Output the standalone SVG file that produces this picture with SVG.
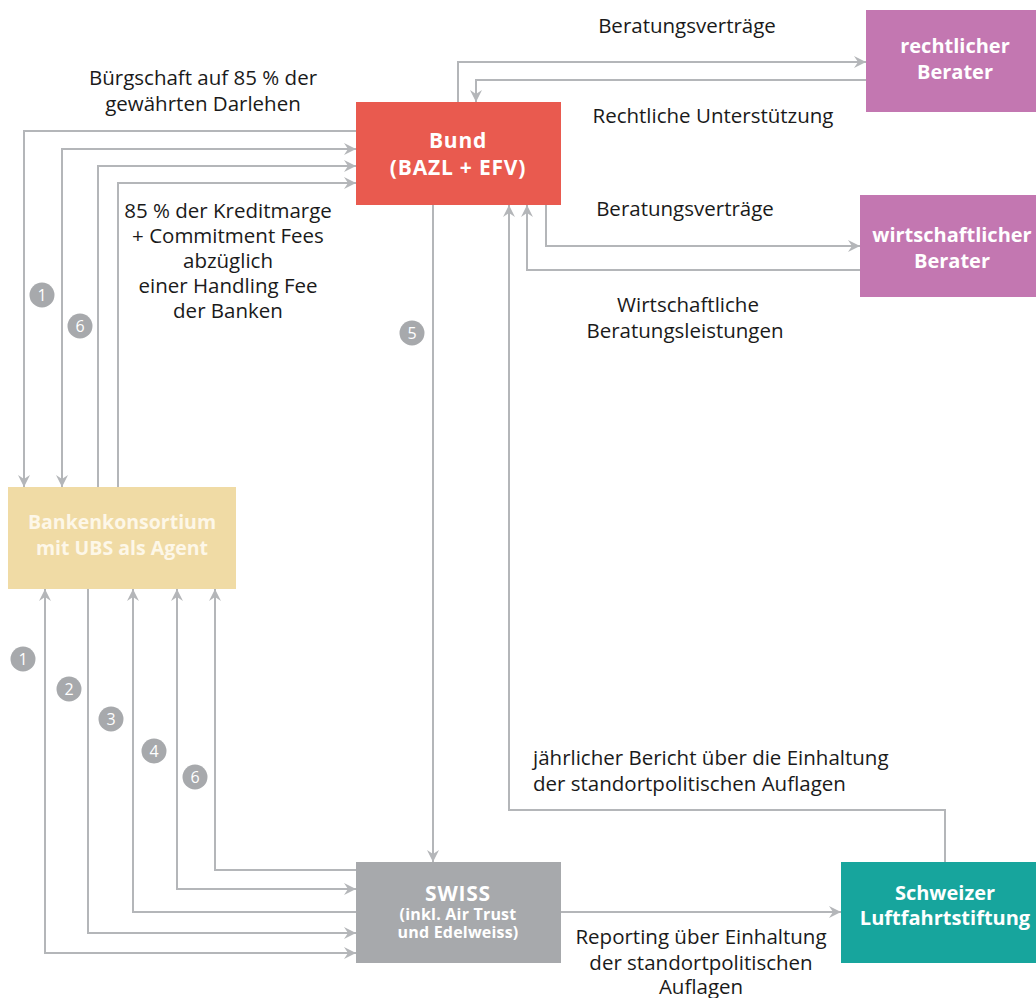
<svg xmlns="http://www.w3.org/2000/svg" width="1036" height="998" viewBox="0 0 1036 998">
<style>
.bg{fill:#ffffff}
.c{fill:none;stroke:#b4b6b9;stroke-width:2}
.lbl{font-family:"Open Sans","Liberation Sans",sans-serif;font-size:20.5px;fill:#1a1a1a}
.nt{font-family:"Open Sans","Liberation Sans",sans-serif;font-size:20px;font-weight:bold;fill:#ffffff;text-anchor:middle}
.big{font-size:21px;letter-spacing:0.8px}
.ns{font-family:"Open Sans","Liberation Sans",sans-serif;font-size:16px;font-weight:bold;fill:#ffffff;text-anchor:middle;letter-spacing:0.2px}
.cream{fill:#fdf7e8;font-size:19.5px}
.num circle{fill:#a7a9ac}
.num text{font-family:"Open Sans","Liberation Sans",sans-serif;font-size:16px;fill:#ffffff;text-anchor:middle}
</style>
<defs>
<marker id="arr" viewBox="0 0 12 12" refX="12" refY="6" markerWidth="12" markerHeight="12" markerUnits="userSpaceOnUse" orient="auto-start-reverse">
<path d="M0,0 L12,6 L0,12 L4,6 z" fill="#b4b6b9"/>
</marker>
</defs>
<rect class="bg" x="0" y="0" width="1036" height="998"/>
<g id="connectors">
<path class="c" d="M458,102 V62 H866" marker-end="url(#arr)"/>
<path class="c" d="M866,80 H476 V102" marker-end="url(#arr)"/>
<path class="c" d="M546,205 V246 H860" marker-end="url(#arr)"/>
<path class="c" d="M860,270 H527 V205" marker-end="url(#arr)"/>
<path class="c" d="M945,862 V810 H509 V205" marker-end="url(#arr)"/>
<path class="c" d="M433,205 V862" marker-end="url(#arr)"/>
<path class="c" d="M356,131 H24 V487" marker-end="url(#arr)"/>
<path class="c" d="M356,149 H62 V487" marker-start="url(#arr)" marker-end="url(#arr)"/>
<path class="c" d="M98,487 V166 H356" marker-end="url(#arr)"/>
<path class="c" d="M118,487 V183 H356" marker-end="url(#arr)"/>
<path class="c" d="M356,870 H215 V589" marker-end="url(#arr)"/>
<path class="c" d="M356,889 H177 V589" marker-start="url(#arr)" marker-end="url(#arr)"/>
<path class="c" d="M356,912 H133 V589" marker-end="url(#arr)"/>
<path class="c" d="M88,589 V933 H356" marker-end="url(#arr)"/>
<path class="c" d="M356,953 H45 V589" marker-start="url(#arr)" marker-end="url(#arr)"/>
<path class="c" d="M561,912 H841" marker-end="url(#arr)"/>
</g>
<g id="bund">
<rect x="356" y="102" width="205" height="103" fill="#e95a4f"/>
<text class="nt big" x="458" y="148">Bund</text>
<text class="nt big" x="458" y="175">(BAZL + EFV)</text>
</g>
<g id="rechtlicher-berater">
<rect x="866" y="10" width="170" height="102" fill="#c377b1"/>
<text class="nt" x="955" y="53">rechtlicher</text>
<text class="nt" x="955" y="79">Berater</text>
</g>
<g id="wirtschaftlicher-berater">
<rect x="860" y="195" width="176" height="102" fill="#c377b1"/>
<text class="nt" x="952" y="242">wirtschaftlicher</text>
<text class="nt" x="952" y="268">Berater</text>
</g>
<g id="bankenkonsortium">
<rect x="8" y="487" width="228" height="102" fill="#f0dba5"/>
<text class="nt cream" x="122" y="529">Bankenkonsortium</text>
<text class="nt cream" x="122" y="555">mit UBS als Agent</text>
</g>
<g id="swiss">
<rect x="356" y="862" width="205" height="101" fill="#a7a9ac"/>
<text class="nt big" x="458" y="901">SWISS</text>
<text class="ns" x="458" y="920">(inkl. Air Trust</text>
<text class="ns" x="458" y="938">und Edelweiss)</text>
</g>
<g id="luftfahrtstiftung">
<rect x="841" y="862" width="195" height="101" fill="#17a59d"/>
<text class="nt" x="945" y="900">Schweizer</text>
<text class="nt" x="945" y="925">Luftfahrtstiftung</text>
</g>
<g id="labels">
<text class="lbl" x="687" y="33" text-anchor="middle">Beratungsverträge</text>
<text class="lbl" x="713" y="123" text-anchor="middle">Rechtliche Unterstützung</text>
<text class="lbl" x="685" y="216" text-anchor="middle">Beratungsverträge</text>
<text class="lbl" x="688" y="312" text-anchor="middle">Wirtschaftliche</text>
<text class="lbl" x="685" y="338" text-anchor="middle">Beratungsleistungen</text>
<text class="lbl" x="203" y="85" text-anchor="middle">Bürgschaft auf 85 % der</text>
<text class="lbl" x="203" y="111" text-anchor="middle">gewährten Darlehen</text>
<text class="lbl" x="228" y="218" text-anchor="middle">85 % der Kreditmarge</text>
<text class="lbl" x="228" y="243" text-anchor="middle">+ Commitment Fees</text>
<text class="lbl" x="228" y="268" text-anchor="middle">abzüglich</text>
<text class="lbl" x="228" y="293" text-anchor="middle">einer Handling Fee</text>
<text class="lbl" x="228" y="318" text-anchor="middle">der Banken</text>
<text class="lbl" x="533" y="765">jährlicher Bericht über die Einhaltung</text>
<text class="lbl" x="533" y="791">der standortpolitischen Auflagen</text>
<text class="lbl" x="701" y="944" text-anchor="middle">Reporting über Einhaltung</text>
<text class="lbl" x="701" y="970" text-anchor="middle">der standortpolitischen</text>
<text class="lbl" x="701" y="994" text-anchor="middle">Auflagen</text>
</g>
<g id="numbers" class="num">
<circle cx="42" cy="295" r="12.5"/><text x="42" y="301">1</text>
<circle cx="80" cy="326" r="12.5"/><text x="80" y="332">6</text>
<circle cx="412" cy="333" r="12.5"/><text x="412" y="339">5</text>
<circle cx="23" cy="659" r="12.5"/><text x="23" y="665">1</text>
<circle cx="69" cy="689" r="12.5"/><text x="69" y="695">2</text>
<circle cx="111" cy="719" r="12.5"/><text x="111" y="725">3</text>
<circle cx="154" cy="751" r="12.5"/><text x="154" y="757">4</text>
<circle cx="195" cy="777" r="12.5"/><text x="195" y="783">6</text>
</g>
</svg>
